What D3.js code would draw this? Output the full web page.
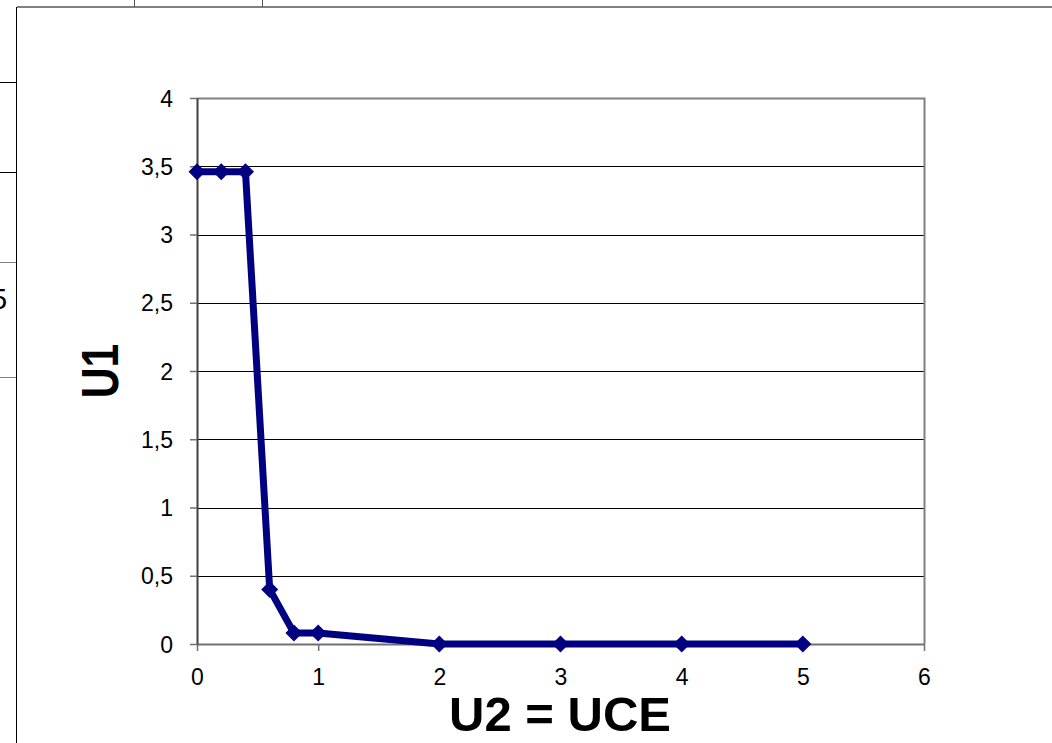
<!DOCTYPE html>
<html><head><meta charset="utf-8">
<script src="https://cdn.jsdelivr.net/npm/d3@7"></script>
<style>body{margin:0;background:#fff;}svg{display:block;font-family:"Liberation Sans",Arial,sans-serif;}</style>
</head><body>
<script>
const xValues = [0, 0.2, 0.4, 0.6, 0.8, 1, 2, 3, 4, 5];
const yValues = [3.46, 3.46, 3.46, 0.4, 0.08, 0.08, 0, 0, 0, 0];
const xTicks = [0, 1, 2, 3, 4, 5, 6];
const yTicks = [0, 0.5, 1, 1.5, 2, 2.5, 3, 3.5, 4];
const xLabel = "U2 = UCE";
const yLabel = "U1";

const W = 1052, H = 743;
const svg = d3.select("body").append("svg").attr("width", W).attr("height", H);

// surrounding frame lines (document table)
const frame = svg.append("g").attr("stroke-width", 1.5).attr("shape-rendering", "crispEdges");
frame.append("line").attr("x1", 16.5).attr("x2", W).attr("y1", 7).attr("y2", 7).attr("stroke", "#808080");
frame.append("line").attr("x1", 16.5).attr("x2", 16.5).attr("y1", 7).attr("y2", H).attr("stroke", "#000");
frame.append("line").attr("x1", 134.5).attr("x2", 134.5).attr("y1", 0).attr("y2", 7).attr("stroke", "#555");
frame.append("line").attr("x1", 262.5).attr("x2", 262.5).attr("y1", 0).attr("y2", 7).attr("stroke", "#555");
[82.5, 172.5, 262.5, 377.5].forEach(y => {
  frame.append("line").attr("x1", 0).attr("x2", 16).attr("y1", y).attr("y2", y).attr("stroke", y === 82.5 || y === 172.5 ? "#000" : "#808080");
});
svg.append("text").attr("x", -9).attr("y", 309).attr("font-size", 29).attr("fill", "#000").text("5");

const x = d3.scaleLinear().domain([0, 6]).range([197, 924]);
const y = d3.scaleLinear().domain([0, 4]).range([644, 98]);

// gridlines
svg.append("g").selectAll("line").data(yTicks.filter(d => d > 0 && d < 4)).join("line")
  .attr("x1", x(0)).attr("x2", x(6)).attr("y1", d => Math.round(y(d)) + 0.5).attr("y2", d => Math.round(y(d)) + 0.5)
  .attr("stroke", "#000").attr("stroke-width", 1);

// plot border top/right
svg.append("path").attr("d", `M${x(0)},${y(4)+0.5}H${x(6)+0.5}V${y(0)}`).attr("fill", "none").attr("stroke", "#808080").attr("stroke-width", 2);

// axes
const xAxis = d3.axisBottom(x).tickValues(xTicks).tickFormat(d => d).tickSize(7).tickSizeOuter(0);
const gx = svg.append("g").attr("transform", `translate(0,${y(0)})`).call(xAxis);
gx.select(".domain").attr("stroke", "#707070").attr("stroke-width", 2);
gx.selectAll(".tick line").attr("stroke", "#707070").attr("stroke-width", 1.5);
gx.selectAll("text").attr("font-size", 23).attr("fill", "#000").attr("dy", null).attr("y", 41).attr("font-family", "Liberation Sans, Arial, sans-serif");

const fmt = d => String(d).replace(".", ",");
const yAxis = d3.axisLeft(y).tickValues(yTicks).tickFormat(fmt).tickSize(7).tickSizeOuter(0);
const gy = svg.append("g").attr("transform", `translate(${x(0)},0)`).call(yAxis);
gy.select(".domain").attr("stroke", "#404040").attr("stroke-width", 2);
gy.selectAll(".tick line").attr("stroke", "#707070").attr("stroke-width", 1.5);
gy.selectAll("text").attr("font-size", 23).attr("fill", "#000").attr("x", -24).attr("dy", "0.35em").attr("font-family", "Liberation Sans, Arial, sans-serif");

// line
const data = xValues.map((d, i) => [d, yValues[i]]);
svg.append("path").datum(data)
  .attr("d", d3.line().x(d => x(d[0])).y(d => y(d[1])))
  .attr("fill", "none").attr("stroke", "#000080").attr("stroke-width", 7).attr("stroke-linejoin", "round");

// diamond markers
const sym = d3.symbol().type(d3.symbolDiamond2).size(185);
svg.append("g").selectAll("path").data(data).join("path")
  .attr("d", sym).attr("transform", d => `translate(${x(d[0])},${y(d[1])})`)
  .attr("fill", "#000080");

// axis titles
svg.append("text").attr("x", 560).attr("y", 731).attr("text-anchor", "middle")
  .attr("font-size", 49).attr("font-weight", "bold").attr("fill", "#000").text(xLabel);
svg.append("text").attr("transform", "translate(118,371) rotate(-90) scale(0.82,1)").attr("text-anchor", "middle")
  .attr("font-size", 52).attr("font-weight", "bold").attr("fill", "#000").text(yLabel);
</script>
</body></html>
